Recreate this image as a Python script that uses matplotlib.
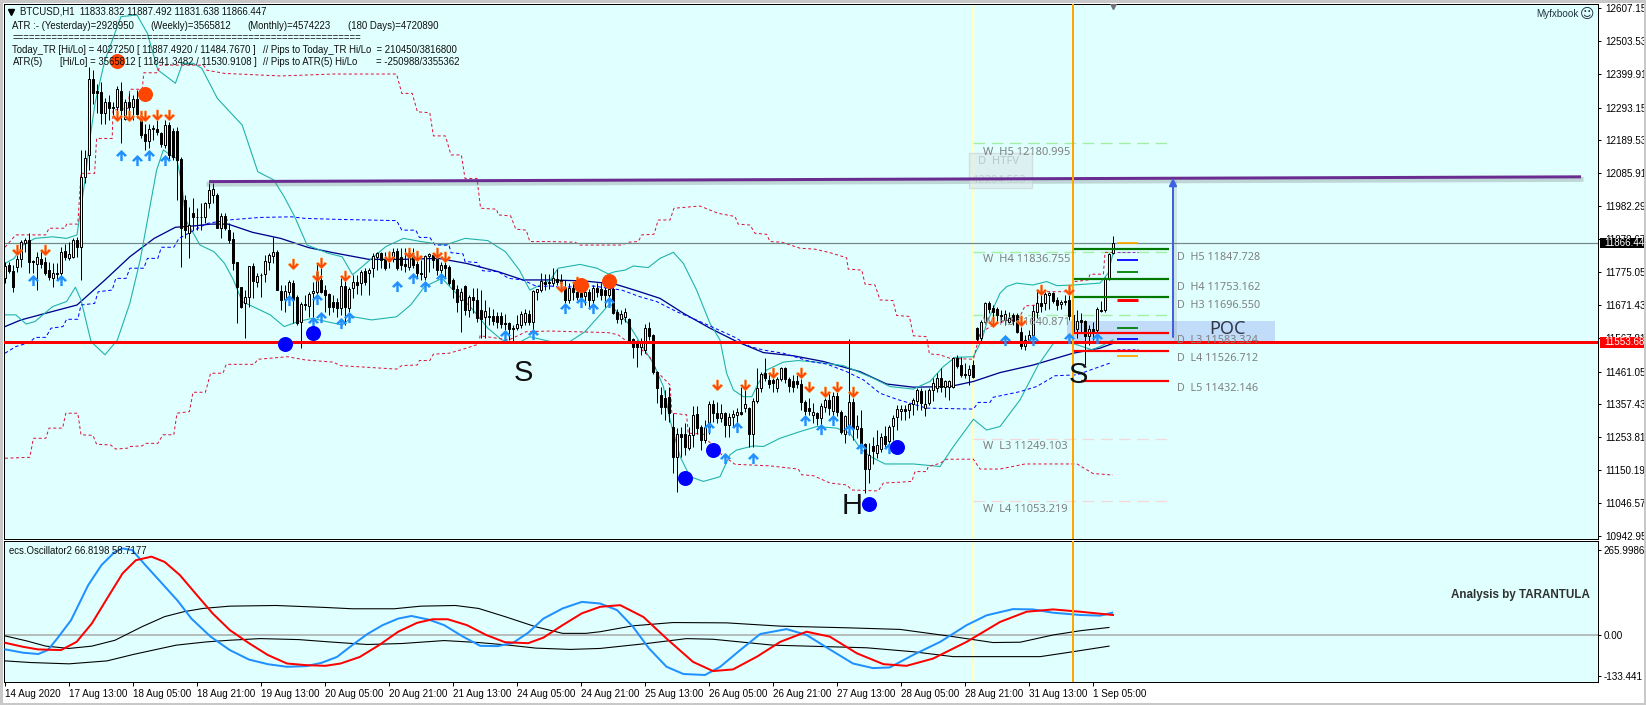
import matplotlib
matplotlib.use('Agg')
import matplotlib.pyplot as plt
import numpy as np
from matplotlib.path import Path
from matplotlib.patches import Rectangle
from matplotlib.transforms import Bbox

# candles
opens = [
    11755,11797,11779,11790,11815,11865,11876,11811,11800,11816,
    11805,11781,11755,11771,11773,11841,11820,11823,11876,11855,
    12075,12144,12382,12346,12343,12277,12310,12296,12296,12345,
    12256,12310,12296,12320,12270,12210,12188,12226,12226,12212,
    12175,12238,12219,12219,12130,12002,11899,11960,11948,11948,
    11947,11991,12018,12018,11913,11950,11907,11879,11806,11729,
    11677,11695,11794,11745,11766,11769,11808,11827,11837,11716,
    11689,11713,11739,11695,11616,11673,11668,11708,11712,11750,
    11718,11706,11682,11681,11661,11731,11661,11724,11745,11739,
    11779,11771,11787,11823,11834,11815,11818,11818,11841,11821,
    11799,11792,11829,11800,11771,11758,11824,11829,11815,11781,
    11797,11792,11750,11720,11687,11731,11655,11697,11687,11656,
    11632,11635,11636,11637,11636,11615,11615,11597,11597,11608,
    11618,11642,11618,11713,11718,11744,11742,11739,11752,11749,
    11728,11686,11726,11713,11710,11699,11713,11686,11726,11723,
    11718,11702,11723,11648,11627,11634,11626,11563,11550,11540,
    11529,11597,11576,11461,11387,11377,11382,11287,11193,11265,
    11264,11219,11261,11327,11285,11245,11287,11359,11330,11314,
    11332,11293,11317,11325,11334,11346,11346,11265,11367,11409,
    11456,11435,11435,11409,11437,11472,11437,11430,11432,11422,
    11366,11346,11325,11330,11314,11351,11372,11337,11385,11335,
    11265,11290,11364,11280,11283,11233,11154,11227,11204,11218,
    11259,11241,11291,11317,11338,11344,11340,11358,11370,11401,
    11346,11361,11403,11411,11440,11412,11412,11412,11503,11482,
    11453,11451,11482,11600,11566,11619,11676,11663,11660,11639,
    11624,11619,11639,11639,11587,11543,11561,11576,11650,11676,
    11676,11702,11708,11687,11673,11684,11687,11639,11595,11624,
    11621,11574,11595,11592,11655,11655,11755,11834]
highs = [
    11808,11808,11797,11830,11876,11881,11897,11813,11839,11844,
    11823,11808,11802,11802,11855,11862,11871,11881,11886,12160,
    12160,12422,12411,12369,12375,12322,12333,12312,12361,12375,
    12319,12338,12333,12348,12280,12243,12243,12238,12254,12217,
    12254,12249,12228,12233,12138,12018,11981,12007,11976,11991,
    11997,12054,12054,12023,11960,11962,11928,11902,11808,11729,
    11718,11794,11802,11771,11771,11829,11836,11884,11845,11734,
    11734,11750,11750,11703,11682,11703,11713,11745,11802,11792,
    11734,11708,11703,11692,11755,11750,11729,11766,11766,11781,
    11787,11787,11834,11839,11839,11839,11842,11850,11850,11850,
    11850,11839,11850,11818,11813,11829,11834,11836,11834,11808,
    11818,11797,11755,11734,11724,11734,11703,11724,11724,11718,
    11687,11666,11660,11650,11650,11644,11618,11608,11639,11653,
    11657,11655,11718,11723,11773,11768,11768,11789,11783,11770,
    11749,11739,11739,11739,11739,11723,11723,11734,11739,11739,
    11734,11739,11728,11660,11655,11663,11629,11566,11560,11566,
    11611,11618,11581,11464,11413,11403,11413,11330,11282,11287,
    11298,11287,11353,11353,11293,11308,11369,11372,11366,11359,
    11335,11330,11340,11346,11414,11409,11351,11377,11472,11461,
    11503,11456,11451,11445,11477,11477,11443,11451,11451,11437,
    11372,11377,11361,11335,11361,11377,11393,11398,11398,11340,
    11325,11564,11377,11325,11340,11235,11235,11256,11277,11267,
    11290,11293,11325,11356,11356,11356,11361,11377,11409,11409,
    11403,11409,11440,11456,11472,11435,11435,11508,11514,11508,
    11487,11482,11498,11603,11624,11681,11684,11671,11666,11655,
    11655,11650,11645,11645,11603,11576,11592,11671,11723,11734,
    11713,11713,11713,11697,11687,11702,11708,11660,11655,11645,
    11624,11608,11618,11666,11684,11760,11834,11888]
lows = [
    11739,11771,11713,11775,11792,11839,11771,11771,11718,11787,
    11766,11750,11729,11750,11760,11813,11813,11818,11823,11750,
    12054,12096,12306,12275,12243,12243,12254,12270,12270,12183,
    12254,12256,12254,12259,12196,12160,12165,12191,12207,12170,
    12165,12128,12128,12002,11790,11881,11818,11907,11907,11907,
    11928,11976,11991,11913,11881,11907,11865,11781,11613,11661,
    11566,11666,11692,11729,11697,11745,11781,11802,11718,11655,
    11650,11671,11613,11608,11535,11655,11634,11624,11692,11710,
    11650,11640,11650,11634,11640,11608,11650,11692,11706,11703,
    11734,11703,11760,11781,11787,11781,11787,11808,11781,11781,
    11776,11781,11787,11755,11750,11750,11776,11787,11766,11755,
    11760,11734,11692,11650,11587,11640,11634,11645,11619,11566,
    11566,11608,11608,11600,11597,11592,11560,11558,11592,11597,
    11608,11608,11592,11686,11713,11718,11723,11731,11734,11718,
    11676,11678,11686,11686,11686,11671,11657,11671,11697,11686,
    11665,11671,11644,11613,11611,11618,11555,11503,11477,11513,
    11519,11560,11455,11361,11329,11308,11303,11143,11083,11193,
    11198,11214,11224,11266,11214,11235,11266,11303,11298,11303,
    11256,11256,11288,11283,11325,11335,11225,11225,11361,11398,
    11430,11409,11398,11398,11430,11424,11398,11398,11409,11340,
    11325,11325,11298,11293,11293,11335,11325,11320,11320,11265,
    11235,11262,11246,11251,11225,11078,11110,11170,11188,11209,
    11225,11230,11246,11277,11309,11309,11314,11325,11340,11340,
    11320,11356,11367,11398,11398,11382,11372,11409,11472,11445,
    11440,11420,11440,11555,11555,11613,11645,11608,11618,11618,
    11608,11613,11608,11582,11532,11529,11550,11555,11629,11650,
    11655,11660,11676,11655,11658,11671,11624,11555,11566,11587,
    11482,11545,11561,11561,11648,11650,11750,11832]
closes = [
    11794,11779,11727,11815,11871,11876,11808,11808,11821,11800,
    11773,11760,11771,11770,11837,11821,11831,11876,11855,12075,
    12133,12382,12340,12340,12277,12310,12291,12291,12351,12285,
    12310,12296,12320,12272,12207,12189,12226,12230,12217,12180,
    12238,12144,12138,12128,11913,11907,11923,11947,11947,11947,
    11991,12033,12036,11913,11950,11913,11876,11802,11729,11664,
    11695,11794,11747,11763,11765,11810,11829,11837,11718,11687,
    11715,11743,11687,11613,11674,11672,11706,11714,11776,11713,
    11703,11666,11664,11661,11731,11664,11722,11745,11734,11776,
    11745,11782,11826,11834,11813,11787,11811,11839,11787,11797,
    11794,11834,11797,11773,11770,11826,11831,11813,11781,11797,
    11789,11740,11720,11682,11713,11655,11697,11687,11629,11627,
    11652,11634,11621,11618,11611,11611,11594,11596,11611,11644,
    11647,11618,11715,11720,11746,11736,11741,11755,11744,11739,
    11686,11726,11713,11697,11697,11713,11686,11726,11713,11702,
    11702,11720,11647,11627,11644,11648,11558,11539,11540,11552,
    11597,11573,11461,11408,11350,11350,11330,11193,11266,11256,
    11224,11261,11324,11282,11245,11287,11359,11330,11314,11330,
    11293,11319,11328,11335,11326,11359,11265,11370,11409,11454,
    11440,11421,11424,11437,11472,11437,11416,11414,11421,11364,
    11338,11338,11335,11314,11353,11372,11346,11385,11335,11272,
    11322,11365,11283,11291,11230,11154,11199,11212,11229,11254,
    11233,11286,11314,11344,11343,11338,11358,11372,11403,11361,
    11359,11403,11424,11440,11414,11430,11433,11503,11479,11451,
    11451,11469,11445,11564,11619,11676,11660,11648,11639,11637,
    11642,11629,11620,11587,11543,11561,11576,11652,11676,11668,
    11705,11708,11684,11671,11681,11682,11637,11587,11621,11618,
    11574,11595,11590,11658,11652,11755,11831,11866]

# moving average
ma_x = [0,4,10.2,18,25,31.2,37.3,42.6,47.9,51.4,55.8,61.9,68.9,75.9,82,90.9,99.6,108.4,115.4,123.3,129.5,136.3,144.6,152.5,157.9,163.75,169.6,176.25,182.9,189.6,197.1,204.6,213.75,220.4,227.1,236.25,242.1,248.75,257.1,267,273.75,277]
ma_y = [11603,11624,11645,11671,11750,11823,11881,11916,11921,11926,11926,11900,11881,11852,11836,11815,11815,11818,11802,11776,11750,11750,11747,11737,11716,11692,11645,11598,11556,11521,11511,11493,11461,11422,11412,11414,11430,11458,11482,11519,11535,11550]

# bollinger bands
bb_up_x = [0,2.3,4.5,7.5,11.9,15.4,18,20,21.3,22.5,24.2,25,29,33,35.6,38.2,42.6,44.4,47,49.2,53.1,59.3,63.2,67.2,69.8,72.4,75.5,80.8,84.3,86.9,91.7,95.2,99.6,104,110.1,115,120.7,125.1,128.6,131.2,136.3,138.3,143.75,148,150.8,152.5,155,157.1,160.8,163.75,167.1,169.6,172.9,176.25,178.75,180.4,182.1,184.6,186.7,188.3,190.4,194.6,198.3,202.9,209.6,213.75,217.1,221.25,227.1,231.25,234.6,237.5,242.1,244.2,245.4,248.75,250.4,252.9,257,260.4,263,267,273.75,275.8,277]
bb_up_y = [11802,11818,11860,11881,11886,11881,11892,12065,12201,12306,12401,12443,12580,12585,12527,12412,12370,12433,12433,12417,12322,12238,12091,12065,12012,11950,11860,11834,11823,11766,11818,11855,11881,11871,11860,11881,11874,11839,11781,11718,11750,11787,11799,11787,11769,11776,11781,11794,11789,11818,11837,11802,11718,11613,11561,11456,11403,11382,11382,11424,11466,11491,11496,11491,11480,11458,11440,11414,11406,11430,11477,11506,11508,11561,11613,11708,11729,11740,11734,11745,11732,11734,11740,11771,11834]
bb_lo_x = [0,2.7,5.3,7.5,11.9,15.4,17.6,19,21.5,25,28.1,31.2,33.8,37.9,39.6,41.25,42.9,44.2,45.2,48.75,52.25,54.9,57.1,59.3,62.8,66.3,69.8,73.3,76.8,80.3,84.3,86.9,91.7,97.9,101.4,104.9,109.25,112.8,116.3,120.7,124.2,128.1,131.2,136.3,141.25,145,148.75,151.25,152.9,155.8,159.6,162.1,164.6,166.25,168.75,171.25,174.6,178.75,181.25,182.9,187.1,189.6,193.75,198.75,202.9,207.9,211.25,213.75,216.25,220,227.1,233.75,237.1,242.1,245.4,248.75,253.75,258.3,262.1,267,271.7,273.75,277]
bb_lo_y = [11640,11640,11611,11619,11666,11682,11727,11687,11556,11514,11561,11676,11813,12096,12160,12144,12133,12054,11939,11860,11839,11802,11750,11682,11661,11640,11603,11619,11629,11619,11608,11634,11624,11634,11671,11729,11755,11708,11666,11598,11561,11550,11571,11556,11556,11587,11640,11676,11650,11613,11535,11487,11414,11309,11194,11130,11115,11130,11199,11214,11227,11225,11251,11272,11288,11283,11267,11220,11194,11170,11170,11162,11225,11311,11277,11288,11372,11482,11550,11550,11530,11540,11561]

# dashed blue band
blue_x = [0,2.7,6.2,7.5,10.2,11.5,14.5,15.4,18.2,19,22.4,23.3,26.8,27.7,30.3,31.2,34.7,35.6,38.2,39.1,42.2,43.5,50.5,55.8,63.7,71.6,75,83,97.9,99.2,102.7,103.6,106.2,107.5,111,111.5,114.5,115,118,119.4,123.3,125.9,129.5,133,136.3,138.75,147,154.2,158.75,162.9,167.9,173.75,182.5,186.25,189.6,194.6,201.25,205.4,210.4,214.6,218.75,222.9,230.4,242.1,243.3,246.25,247,253.75,257.9,262.5,268,273.75,276.25]
blue_y = [11519,11540,11553,11569,11569,11598,11603,11626,11626,11671,11676,11713,11718,11755,11755,11787,11787,11818,11818,11853,11853,11881,11928,11939,11947,11949,11944,11941,11937,11907,11907,11884,11884,11860,11860,11836,11832,11808,11805,11779,11776,11755,11750,11729,11731,11727,11731,11718,11697,11682,11650,11619,11569,11540,11529,11519,11493,11485,11461,11435,11393,11374,11346,11343,11364,11364,11380,11398,11414,11448,11451,11477,11488]

# dashed red band, upper and lower
red_up_x = [0,2.7,10.2,11,15,15.4,18.2,19,22.4,22.9,26.8,27,30.8,31.2,34.3,34.7,38.2,38.7,49.6,50.5,54.9,68.9,82,97.9,99.2,101.8,103.1,106.2,107.1,110.1,111.5,114.1,115,118,118.9,122.9,123.3,126.4,127.7,130.3,131.2,136.3,142.5,143.75,154.2,155.8,158.3,159.2,162.25,163.3,166.25,167.25,173.75,178.3,182.5,183.3,186.25,187.5,190.4,191.25,194.2,198.75,202.5,206.25,210.4,210.8,214.2,215,217.5,218.75,222,222.9,226.1,227.1,230.4,231.1,233.75,236.25,242.1,243.75,247,253.75,255,258,258.3,265.8,267.5,270.8,271.25,274.6,275,277]
red_up_y = [11853,11892,11892,11913,11913,11926,11926,12086,12086,12196,12196,12285,12291,12351,12351,12403,12403,12427,12427,12411,12401,12393,12399,12399,12338,12338,12280,12277,12204,12204,12144,12144,12070,12070,11976,11973,11955,11952,11910,11907,11871,11871,11869,11860,11860,11869,11871,11892,11894,11939,11939,11976,11983,11960,11950,11926,11923,11897,11894,11871,11869,11850,11847,11836,11820,11784,11781,11737,11734,11687,11685,11638,11635,11574,11571,11517,11514,11503,11500,11582,11608,11635,11668,11671,11713,11713,11745,11750,11768,11768,11837,11837]
red_lo_x = [0,6.2,7.1,10.2,11,14.4,15.2,18.2,19,22,22.9,26.4,27.7,30.8,31.2,34.3,35.2,38.2,39.5,42.2,43,46.1,47,50.1,51.4,54.5,55.3,62.3,63.2,70.7,75,82.1,83.8,97.9,99.2,103.1,103.6,106.2,107.1,111,114.1,118.5,118.75,126,130.3,136.3,150.8,153.3,155,158.75,161.25,163,166.25,166.7,170.4,170.8,174.6,175.4,179.2,182.5,191.25,198.3,199.2,202.1,206.25,210.4,211.7,218.3,219.6,223,226.7,227.5,230.4,230.8,233.75,235.4,242.1,243.75,248.75,255,268,272,277]
red_lo_y = [11188,11191,11251,11251,11283,11283,11330,11330,11262,11260,11232,11230,11217,11220,11225,11227,11235,11235,11262,11262,11330,11335,11396,11396,11456,11456,11484,11484,11500,11508,11498,11491,11480,11469,11480,11482,11496,11496,11516,11519,11530,11548,11574,11561,11587,11589,11584,11577,11561,11535,11506,11461,11419,11330,11325,11267,11264,11248,11199,11169,11164,11154,11136,11133,11110,11104,11088,11085,11110,11112,11115,11146,11146,11162,11172,11185,11185,11154,11154,11170,11170,11140,11135]

# big dots
orange_dot_x = [28,35,144,151]
orange_dot_y = [12440,12336,11734,11747]
blue_dot_x = [70,77,170,177,223,216]
blue_dot_y = [11548,11582,11127,11214,11224,11045]

# small arrows
down_x = [3,10,28,31,34,35,38,41,72,79,78,85,96,101,103,108,110,139,143,178,185,192,199,201,205,208,212,247,254,259,266]
down_y = [11844,11844,12267,12267,12267,12267,12270,12270,11800,11802,11764,11763,11823,11836,11826,11836,11823,11729,11745,11419,11419,11458,11458,11414,11398,11414,11398,11619,11621,11718,11718]
up_x = [7,14,29,33,36,40,71,78,77,79,84,86,98,102,105,109,125,132,140,144,147,151,176,180,183,187,200,204,207,211,214,221,250,257,266,273]
up_y = [11750,11750,12144,12128,12144,12128,11687,11689,11619,11632,11613,11632,11731,11757,11731,11757,11577,11579,11661,11682,11661,11682,11288,11188,11288,11188,11309,11280,11309,11280,11220,11220,11561,11561,11566,11566]

# pivot levels
d_high_levels = [11847.728,11753.162,11696.550]
d_low_levels = [11583.324,11526.712,11432.146]
d_names = ['H5','H4','H3','L3','L4','L5']
w_levels = [12180.995,11836.755,11640.871,11249.103,11053.219]
w_names = ['H5','H4','H3','L3','L4']
w_colors = ['#a0f0a0','#a0f0a0','#a0f0a0','#f5d8d8','#f5d8d8']
short_levels = [11867,11839,11813,11775,11687,11598,11564,11532,11510]
short_colors = ['#ffa500','#9932cc','#0000ff','#008000','#ff0000','#008000','#0000ff','#9932cc','#ffa500']
last_price = 11866.447
red_level = 11553.685
purple_x = [51,394]
purple_y = [12060,12075]

# oscillator
osc_blue_x = [0.1,4.5,8.3,10.7,13.1,16.5,20.8,24.1,27.5,29.4,31.8,35.1,38.9,43.2,46.6,51.4,56.2,61,65.7,70.5,75.3,79.1,83,86.8,90.6,94.4,98.3,101.6,105.9,109.8,114.5,118.8,123.2,127,130.8,134.6,139.4,144.2,148.8,153,157,161,165.4,169.6,175,178.8,183.8,188.8,195.4,200.4,205.4,212,217,221.2,227,233.8,240.4,245.4,252,257,262,268.8,273.8,276.8]
osc_blue_y = [-44,-54,-58,-46,-10,45,152,213,254,264,259,213,162,104,50,-5,-46,-75,-89,-97,-95,-85,-67,-31,3,30,50,58,47,30,-5,-33,-34,-24,7,50,81,101,96,76,25,-41,-97,-119,-122,-97,-46,3,18,0,-38,-87,-101,-99,-61,-21,30,60,79,78,68,61,59,68]
osc_red_x = [0.1,4.5,8.3,14,17.9,21.7,25.5,29.4,32.7,36.6,39.9,43.7,47.6,51.9,56.2,61,65.7,70.5,75.3,80.1,83.9,88.7,93.5,98.3,103,106.9,110.7,115.5,120.3,125,130.8,134.6,139.4,144.2,148.8,153.8,159.6,165.4,172,177,182,188,193.8,200.4,206.2,213,219.6,225.4,232,240.4,248.8,255.4,262,268.8,277]
osc_red_y = [-24,-36,-44,-46,-21,35,111,188,228,239,223,183,127,66,15,-25,-61,-87,-92,-94,-87,-67,-31,10,37,48,48,30,0,-22,-25,-8,30,66,86,91,55,-11,-82,-110,-105,-66,-21,10,-5,-56,-89,-94,-72,-21,40,71,78,71,61]
osc_top_x = [0.1,5.4,10.2,16,21.7,27.5,34.2,39.9,44.7,49.5,56.2,67.7,80.1,86.8,97.3,104,112.6,118.4,125,132.7,139.4,145.2,148.8,157,167,180.4,193.8,210.4,223.8,237,247,253.8,262,268.8,276]
osc_top_y = [-3,-18,-34,-41,-34,-16,25,56,71,81,88,90,84,80,80,88,90,81,56,25,5,5,10,28,38,37,27,22,17,-5,-23,-22,0,13,23]
osc_bot_x = [0.1,6.4,16,25.5,32.2,42.8,50.4,56.2,63.8,73.4,81,90.6,99.2,109.8,118.4,126,132.7,141.3,148.8,160.4,170.4,177,192,215.4,227,237,258.8,265.4,276]
osc_bot_y = [-79,-84,-88,-79,-59,-31,-21,-16,-11,-14,-21,-29,-26,-17,-23,-31,-40,-44,-41,-26,-11,-13,-31,-39,-51,-66,-66,-54,-34]

# axis labels
main_ticks = [12607.15,12503.53,12399.91,12293.15,12189.53,12085.91,11982.29,11878.67,11775.05,11671.43,11567.81,11461.05,11357.43,11253.81,11150.19,11046.57,10942.95]
time_labels = ['14 Aug 2020','17 Aug 13:00','18 Aug 05:00','18 Aug 21:00','19 Aug 13:00','20 Aug 05:00','20 Aug 21:00','21 Aug 13:00','24 Aug 05:00','24 Aug 21:00','25 Aug 13:00','26 Aug 05:00','26 Aug 21:00','27 Aug 13:00','28 Aug 05:00','28 Aug 21:00','31 Aug 13:00','1 Sep 05:00']

BG = '#e0ffff'
W, H = 1646, 705
plt.rcParams['font.family'] = ['Liberation Sans', 'DejaVu Sans']
px = 0.72  # one pixel in points at dpi 100
SMALL = 7.1


def axes_box(left, top, right, bottom):
    return [left / W, 1 - bottom / H, (right - left) / W, (bottom - top) / H]


fig = plt.figure(figsize=(W / 100, H / 100), dpi=100, facecolor='white')
ax = fig.add_axes(axes_box(4, 4.3, 1598, 539), facecolor=BG)
sub = fig.add_axes(axes_box(4, 541.3, 1598, 682.3), facecolor=BG)
ax.set_xlim(-0.25, 398.25)
ax.set_ylim(10933.5, 12618.8)
sub.set_xlim(-0.25, 398.25)
sub.set_ylim(-144.3, 285.8)

# window frame
for x0, y0, w, h in [(0, 703, W, 2), (0, 0, W, 2.5), (0, 0, 2.5, H), (1644, 0, 2, H)]:
    fig.patches.append(Rectangle((x0 / W, 1 - (y0 + h) / H), w / W, h / H, transform=fig.transFigure,
                                 facecolor='#c8c8c8', edgecolor='none'))

for a in (ax, sub):
    for s in a.spines.values():
        s.set_linewidth(1 * px)
        s.set_color('black')
    a.axvline(242, color='#ffffc8', lw=2.5 * px, zorder=1)
    a.axvline(267, color='#ffa500', lw=2 * px, zorder=6)

# POC box and weekly levels go under the candles
ax.add_patch(Rectangle((265.5, 11555), 52, 66, facecolor='#c0dcf8', edgecolor='none', zorder=1))
for lev, col in zip(w_levels, w_colors):
    ax.plot([242, 291], [lev, lev], color=col, lw=1.3 * px, ls=(0, (9, 5)), zorder=1.5)

# indicator lines
ax.plot(ma_x, ma_y, color='#00008b', lw=1.3 * px, zorder=2)
ax.plot(bb_up_x, bb_up_y, color='#20b2aa', lw=1.1 * px, zorder=2)
ax.plot(bb_lo_x, bb_lo_y, color='#20b2aa', lw=1.1 * px, zorder=2)
ax.plot(blue_x, blue_y, color='#0000ff', lw=1 * px, ls=(0, (3.5, 2.5)), zorder=2)
ax.plot(red_up_x, red_up_y, color='#dc143c', lw=1 * px, ls=(0, (3, 2.5)), zorder=2)
ax.plot(red_lo_x, red_lo_y, color='#dc143c', lw=1 * px, ls=(0, (3, 2.5)), zorder=2)

ax.axhline(last_price, color='#708888', lw=1.2 * px, zorder=2.5)

# candles
xs = np.arange(len(opens))
o = np.array(opens)
c = np.array(closes)
bull = c >= o
ax.vlines(xs, lows, highs, color='black', lw=1 * px, zorder=3)
ax.bar(xs[bull], (c - o)[bull], bottom=o[bull], width=0.62, facecolor=BG, edgecolor='black', lw=1 * px, zorder=3.2)
ax.bar(xs[~bull], (o - c)[~bull], bottom=c[~bull], width=0.62, facecolor='black', edgecolor='black', lw=1 * px, zorder=3.2)

# daily levels
for lev in d_high_levels:
    ax.plot([267, 291], [lev, lev], color='#007800', lw=2.2 * px, zorder=4, solid_capstyle='butt')
ax.plot([267, 291], [d_low_levels[0]] * 2, color='#ff0000', lw=2.2 * px, zorder=4, solid_capstyle='butt')
ax.plot([267, 291], [d_low_levels[1]] * 2, color='#ff0000', lw=2.2 * px, zorder=4, solid_capstyle='butt')
ax.plot([269, 291], [d_low_levels[2]] * 2, color='#ff0000', lw=2.2 * px, zorder=4, solid_capstyle='butt')
for lev, col in zip(short_levels, short_colors):
    dash = col == '#9932cc'
    width = 1 if dash else (3 if col == '#ff0000' else 1.8)
    ax.plot([278, 283.2], [lev, lev], color=col, lw=width * px, ls=(0, (3, 2)) if dash else '-',
            zorder=4, solid_capstyle='butt')

# thick lines with their shadows
ax.plot(purple_x, np.array(purple_y) - 8, color='#707878', alpha=0.3, lw=5 * px, zorder=4)
ax.plot(purple_x, purple_y, color='#6a2c91', lw=3 * px, zorder=5, solid_capstyle='butt')
ax.plot([292.5, 292.5], [11565, 12060], color='#808080', alpha=0.2, lw=3 * px, zorder=4)
ax.annotate('', xy=(292, 12072), xytext=(292, 11570),
            arrowprops=dict(arrowstyle='-|>,head_width=0.22,head_length=0.45', color='#4060e0', lw=2 * px, shrinkA=0, shrinkB=0),
            zorder=5)
ax.axhline(red_level, color='#ff0000', lw=3 * px, zorder=5.5)

# arrows and dots
arrow_up = Path([(0, 1), (1, 0), (0.6, -0.25), (0.22, 0.2), (0.22, -1), (-0.22, -1), (-0.22, 0.2), (-0.6, -0.25), (-1, 0), (0, 1)])
arrow_down = Path(arrow_up.vertices * np.array([1, -1]))
ax.plot(up_x, up_y, ls='none', marker=arrow_up, ms=8, mfc='#2090ff', mec='none', zorder=7)
ax.plot(down_x, down_y, ls='none', marker=arrow_down, ms=8, mfc='#ff4500', mec='#ffb060', mew=0.3, zorder=7)
ax.plot(orange_dot_x, orange_dot_y, ls='none', marker='o', ms=10.8, mfc='#ff4500', mec='none', zorder=8)
ax.plot(blue_dot_x, blue_dot_y, ls='none', marker='o', ms=10.8, mfc='#0000ff', mec='none', zorder=8)

# level labels
GREY = '#808080'
for lev, name, ty in zip(w_levels, w_names, [12153, 11813, 11616, 11224, 11028]):
    ax.text(244.5, ty, 'W  %s %.3f' % (name, lev), color=GREY, fontsize=8.0, family='Noto Sans', va='center', ha='left', zorder=6)
for lev, name, ty in zip(d_high_levels + d_low_levels, d_names, [11820, 11726, 11669, 11560, 11502, 11407]):
    ax.text(293, ty, 'D  %s %.3f' % (name, lev), color=GREY, fontsize=7.8, family='Noto Sans', va='center', ha='left', zorder=9)
ax.text(305.7, 11595, 'POC', color='#303848', fontsize=13, family='Noto Sans', ha='center', va='center', zorder=9)

# faded HTFV box
ax.add_patch(Rectangle((241, 12039), 15.8, 110, facecolor='#d8e8e8', edgecolor='#c8d0d0', alpha=0.6, lw=1, zorder=4.5))
ax.text(248.5, 12122, 'D  HTFV', color='#b8c8c8', fontsize=8.0, family='Noto Sans', ha='center', va='center', zorder=5)
ax.text(248.5, 12065, '12204.553', color='#c0d0d0', fontsize=8.0, family='Noto Sans', ha='center', va='center', zorder=4.6)

# big letters
letter = dict(fontsize=21, color='#101010', ha='center', va='center', zorder=9)
ax.text(129.5, 11456, 'S', **letter)
ax.text(268.3, 11449, 'S', **letter)
ax.text(211.7, 11039, 'H', **letter)

# header text, positioned in pixels from the top left of the picture
head = [(20, 12, 'BTCUSD,H1  11833.832 11887.492 11831.638 11866.447'),
        (12.5, 25.7, 'ATR :- (Yesterday)=2928950'), (150, 25.7, '(Weekly)=3565812'),
        (247.6, 25.7, '(Monthly)=4574223'), (348, 25.7, '(180 Days)=4720890'),
        (12.5, 37.7, '=' * 62),
        (12.5, 49.7, 'Today_TR [Hi/Lo] = 4027250 [ 11887.4920 / 11484.7670 ]'),
        (263, 49.7, '// Pips to Today_TR Hi/Lo  = 210450/3816800'),
        (12.5, 61.7, 'ATR(5)'), (59.6, 61.7, '[Hi/Lo] = 3565812 [ 11841.3482 / 11530.9108 ]'),
        (263, 61.7, '// Pips to ATR(5) Hi/Lo'), (376, 61.7, '= -250988/3355362')]
for x0, y0, s in head:
    fig.text(x0 / W, 1 - y0 / H, s, fontsize=6.9, color='#101010', va='center', ha='left', zorder=20)
fig.text(1579 / W, 1 - 13.7 / H, 'Myfxbook', fontsize=SMALL, color='#203040', ha='right', va='center')
fig.text(1587 / W, 1 - 14 / H, '\u263a', fontsize=10, color='#203040', ha='center', va='center', family='DejaVu Sans')
ax.plot([11 / W], [1 - 12 / H], transform=fig.transFigure, ls='none', marker='v', ms=4.5, color='black',
        clip_on=False, zorder=20)
ax.plot([277], [12612], ls='none', marker='v', ms=4.5, color='#707070', zorder=20)

# right axis of the price panel
ax.yaxis.tick_right()
ax.set_yticks(main_ticks)
ax.set_yticklabels(['%.3f' % t for t in main_ticks], fontsize=SMALL)
ax.tick_params(axis='y', length=2.5, width=1 * px, pad=2.5)
ax.set_xticks([])
clip = Bbox([[0, 0], [1644, H]])
for lab in ax.get_yticklabels():
    lab.set_clip_on(True)
    lab.set_clip_box(clip)

# price flags at the right
for price, col in [(last_price, 'black'), (red_level, '#ff0000')]:
    ax.add_patch(Rectangle((398.75, price - 17), 11, 34, facecolor=col, edgecolor='none', clip_on=False, zorder=10))
    t = ax.text(399.9, price, '%.3f' % price, color='white', fontsize=SMALL, va='center', ha='left', clip_on=True, zorder=11)
    t.set_clip_box(clip)

# oscillator
sub.axhline(0, color='#a8a8a8', lw=1.5 * px, zorder=1)
sub.plot(osc_top_x, osc_top_y, color='black', lw=1.1 * px, zorder=2)
sub.plot(osc_bot_x, osc_bot_y, color='black', lw=1.1 * px, zorder=2)
sub.plot(osc_blue_x, osc_blue_y, color='#2090ff', lw=2 * px, zorder=3)
sub.plot(osc_red_x, osc_red_y, color='#ff0000', lw=2 * px, zorder=4)
sub.yaxis.tick_right()
sub.set_yticks([258, 0, -124])
sub.set_yticklabels(['265.9986', '0.00', '-133.441'], fontsize=SMALL)
sub.tick_params(axis='y', length=2.5, width=1 * px, pad=1.5)
sub.set_xticks(np.arange(0, 273, 16))
sub.set_xticklabels(time_labels, fontsize=SMALL, ha='left')
sub.tick_params(axis='x', length=3, width=1 * px, pad=2)
fig.text(9 / W, 1 - 550.7 / H, 'ecs.Oscillator2 66.8198 58.7177', fontsize=6.9, color='#101010', va='center', ha='left')
fig.text(1520 / W, 1 - 595 / H, 'Analysis by TARANTULA', fontsize=8.4, fontweight='bold', color='#303030', va='center', ha='center')

fig.savefig('out.png', dpi=100, facecolor='white')
